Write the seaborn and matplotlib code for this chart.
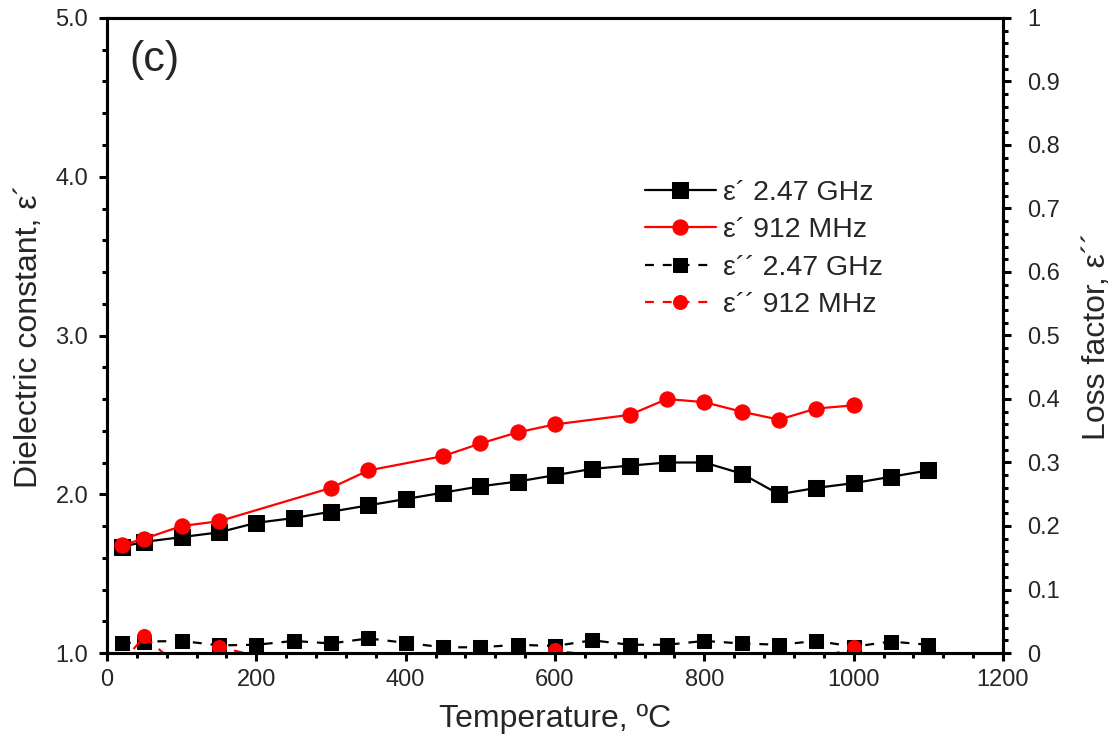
import numpy as np
import pandas as pd
import matplotlib
matplotlib.use("Agg")
import matplotlib.pyplot as plt
from matplotlib.ticker import MultipleLocator, FuncFormatter
import seaborn as sns

# ---- data ----
temp_247 = [20, 50, 100, 150, 200, 250, 300, 350, 400, 450, 500, 550, 600,
            650, 700, 750, 800, 850, 900, 950, 1000, 1050, 1100]
eps1_247 = [1.67, 1.70, 1.73, 1.76, 1.82, 1.85, 1.89, 1.93, 1.97, 2.01, 2.05, 2.08, 2.12,
            2.16, 2.18, 2.20, 2.20, 2.13, 2.00, 2.04, 2.07, 2.11, 2.15]
eps2_247 = [0.015, 0.018, 0.019, 0.012, 0.013, 0.019, 0.015, 0.023, 0.016, 0.009, 0.009, 0.013, 0.011,
            0.020, 0.013, 0.013, 0.019, 0.015, 0.013, 0.019, 0.010, 0.018, 0.013]

temp_912 = [20, 50, 100, 150, 300, 350, 450, 500, 550, 600, 700, 750, 800, 850, 900, 950, 1000]
eps1_912 = [1.68, 1.72, 1.80, 1.83, 2.04, 2.15, 2.24, 2.32, 2.39, 2.44, 2.50, 2.60, 2.58,
            2.52, 2.47, 2.54, 2.56]
eps2_912 = [-0.015, 0.026, -0.025, 0.009, -0.030, -0.030, -0.025, -0.025, -0.015, 0.004,
            -0.012, -0.020, -0.020, -0.020, -0.020, -0.012, 0.010]

labels = ["ε´ 2.47 GHz", "ε´ 912 MHz", "ε´´ 2.47 GHz", "ε´´ 912 MHz"]
x_label = "Temperature, ºC"
y_label = "Dielectric constant, ε´"
y2_label = "Loss factor, ε´´"
panel = "(c)"

sns.set_style("ticks")
plt.rcParams["font.family"] = ["Liberation Sans", "DejaVu Sans"]

fig = plt.figure(figsize=(11.16, 7.42), dpi=100)
ax = fig.add_axes([107/1116, 1-653/742, (1003-107)/1116, (653-18)/742])
ax2 = ax.twinx()

df1 = pd.DataFrame({"T": temp_247, "e1": eps1_247, "e2": eps2_247})
df2 = pd.DataFrame({"T": temp_912, "e1": eps1_912, "e2": eps2_912})

sns.lineplot(data=df1, x="T", y="e1", ax=ax, color="black", marker="s", markersize=11,
             markeredgecolor="black", linewidth=1.6, label=labels[0])
sns.lineplot(data=df2, x="T", y="e1", ax=ax, color="red", marker="o", markersize=11,
             markeredgecolor="red", linewidth=1.6, label=labels[1])
sns.lineplot(data=df1, x="T", y="e2", ax=ax2, color="black", marker="s", markersize=10,
             markeredgecolor="black", linewidth=1.6, linestyle=(0, (4, 4)), label=labels[2])
sns.lineplot(data=df2, x="T", y="e2", ax=ax2, color="red", marker="o", markersize=10,
             markeredgecolor="red", linewidth=1.6, linestyle=(0, (4, 4)), label=labels[3])

for a in (ax, ax2):
    if a.get_legend() is not None:
        a.get_legend().remove()

ax.set_xlim(0, 1200)
ax.set_ylim(1.0, 5.0)
ax2.set_ylim(0, 1)

ax.xaxis.set_major_locator(MultipleLocator(200))
ax.xaxis.set_minor_locator(MultipleLocator(40))
ax.yaxis.set_major_locator(MultipleLocator(1.0))
ax.yaxis.set_minor_locator(MultipleLocator(0.2))
ax.yaxis.set_major_formatter(FuncFormatter(lambda v, p: f"{v:.1f}"))
ax2.yaxis.set_major_locator(MultipleLocator(0.1))
ax2.yaxis.set_minor_locator(MultipleLocator(0.02))
ax2.yaxis.set_major_formatter(FuncFormatter(lambda v, p: f"{v:.1f}".rstrip("0").rstrip(".") if v not in (0, 1) else f"{int(round(v))}"))

for a in (ax, ax2):
    for s in a.spines.values():
        s.set_linewidth(2.2)
        s.set_color("black")
    a.tick_params(which="major", direction="out", length=5.5, width=2.2, labelsize=17, color="black")
    a.tick_params(which="minor", direction="out", length=3.5, width=2.2, color="black")

ax.tick_params(axis="y", which="both", left=True, right=False)
ax.tick_params(axis="y", which="major", pad=8)
ax.tick_params(axis="x", which="major", pad=6)
ax.tick_params(axis="x", which="both", bottom=True, top=False)
ax2.tick_params(axis="y", which="both", right=True, left=False)
ax2.tick_params(axis="y", which="major", pad=12)

ax.set_xlabel(x_label, fontsize=23, labelpad=9)
ax.set_ylabel(y_label, fontsize=23, labelpad=8)
ax2.set_ylabel(y2_label, fontsize=23, labelpad=16, rotation=90)

ax.text(0.025, 0.965, panel, transform=ax.transAxes, fontsize=31, va="top", ha="left")

h1, l1 = ax.get_legend_handles_labels()
h2, l2 = ax2.get_legend_handles_labels()
ax2.legend(h1 + h2, l1 + l2, loc="upper left", bbox_to_anchor=(0.600, 0.745),
           frameon=False, fontsize=20.5, handlelength=2.5, handletextpad=0.25,
           labelspacing=0.4, borderpad=0, borderaxespad=0)

fig.savefig("out.png", dpi=100)
